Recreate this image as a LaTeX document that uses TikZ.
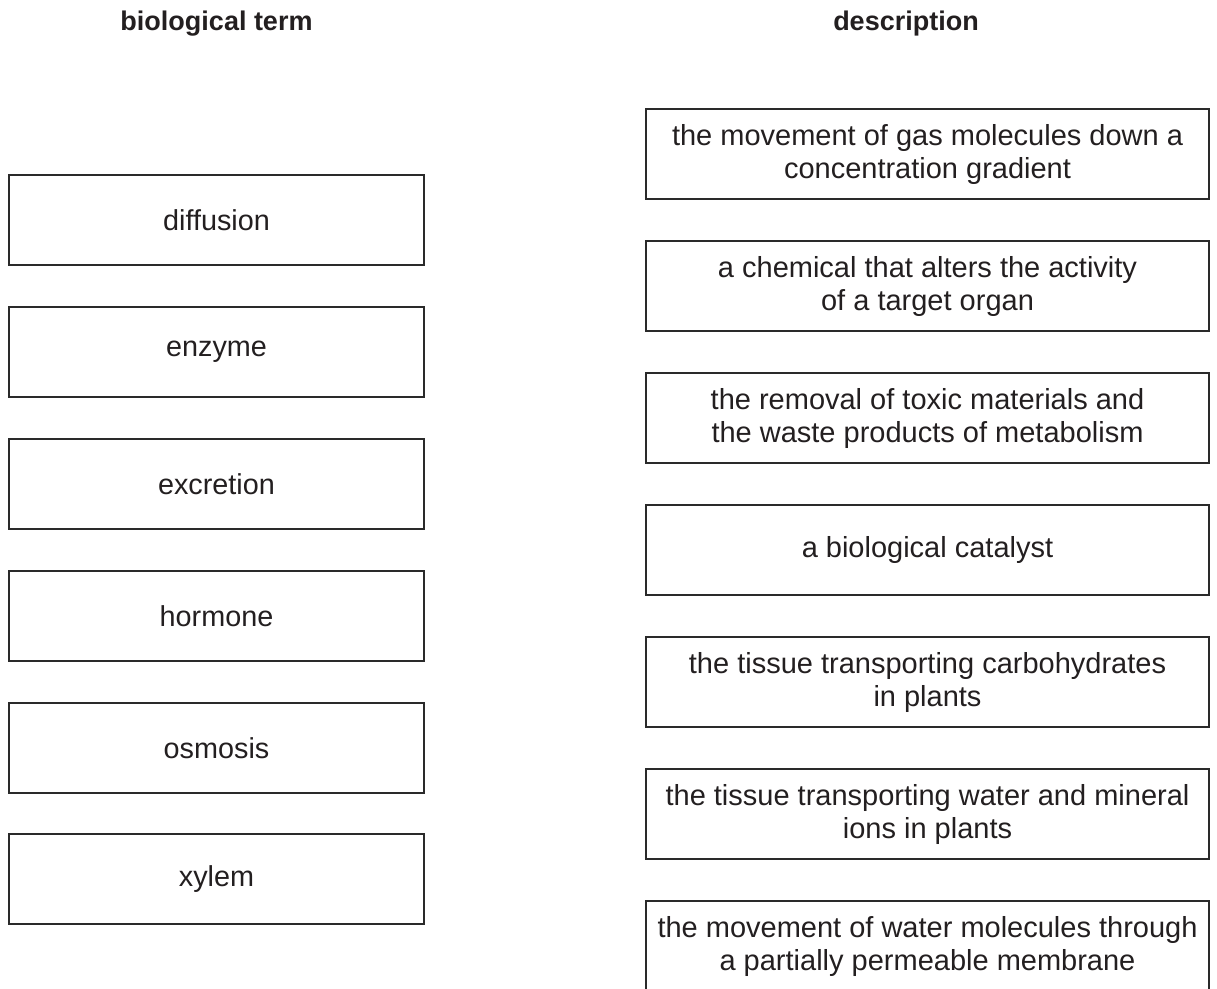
\documentclass[tikz,border=0pt]{standalone}
\usepackage{fontspec}
\setmainfont{Liberation Sans}
\definecolor{ink}{HTML}{231F20}
\definecolor{edge}{HTML}{2A2A2A}
\begin{document}
\begin{tikzpicture}[x=1pt,y=-1pt,
  termbox/.style={draw=edge,line width=1.3pt,minimum width=415pt,minimum height=90pt,inner sep=0pt,text=ink,font=\fontsize{28.8}{33}\selectfont},
  descbox/.style={draw=edge,line width=1.3pt,minimum width=563pt,minimum height=90pt,inner sep=0pt,align=center,text=ink,font=\fontsize{29}{33}\selectfont},
  header/.style={text=ink,font=\fontsize{27}{32}\selectfont\bfseries,inner sep=0pt}]
\useasboundingbox (0,0) rectangle (1217,988);
\fill[white] (0,0) rectangle (1217,988);
\node[header] (h1) at (216.5,24) {biological term};
\node[header] (h2) at (906,24) {description};
\node[termbox] (t1) at (216.5,220) {diffusion};
\node[termbox] (t2) at (216.5,352) {enzyme};
\node[termbox] (t3) at (216.5,484) {excretion};
\node[termbox] (t4) at (216.5,616) {hormone};
\node[termbox] (t5) at (216.5,748) {osmosis};
\node[termbox] (t6) at (216.5,879) {xylem};
\node[descbox] (d1) at (927.5,154) {the movement of gas molecules down a\\concentration gradient};
\node[descbox] (d2) at (927.5,286) {a chemical that alters the activity\\of a target organ};
\node[descbox] (d3) at (927.5,418) {the removal of toxic materials and\\the waste products of metabolism};
\node[descbox] (d4) at (927.5,550) {a biological catalyst};
\node[descbox] (d5) at (927.5,682) {the tissue transporting carbohydrates\\in plants};
\node[descbox] (d6) at (927.5,814) {the tissue transporting water and mineral\\ions in plants};
\node[descbox] (d7) at (927.5,946) {the movement of water molecules through\\a partially permeable membrane};
\end{tikzpicture}
\end{document}
